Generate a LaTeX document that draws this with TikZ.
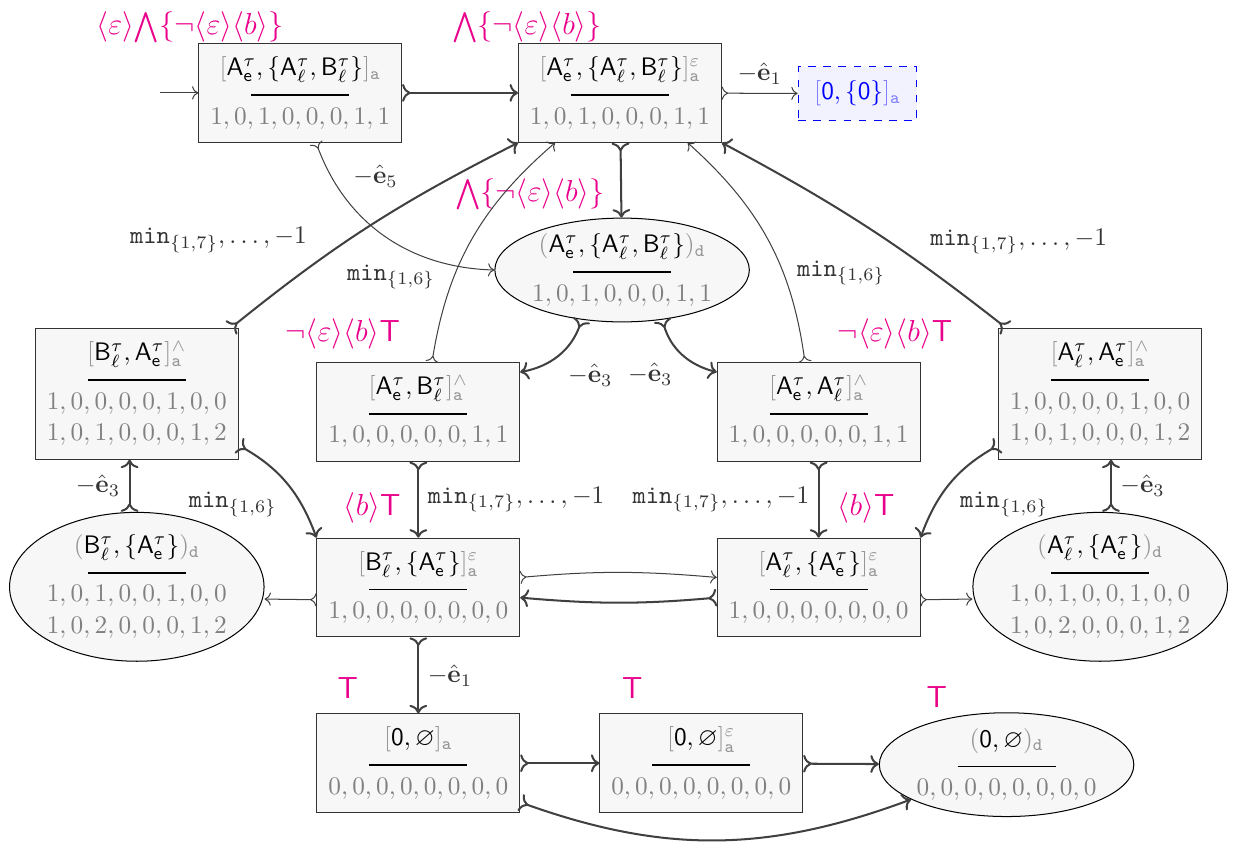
\documentclass[tikz,border=0pt]{standalone}
\usepackage{amssymb}
\usetikzlibrary{arrows.meta,shapes.geometric}

\definecolor{propc}{RGB}{233,0,139}
\definecolor{brk}{RGB}{150,150,150}
\definecolor{dig}{RGB}{128,128,128}
\definecolor{edg}{RGB}{64,64,64}

\newcommand{\Aet}{\mathsf{A}^{\tau}_{\mathsf{e}}}
\newcommand{\Alt}{\mathsf{A}^{\tau}_{\ell}}
\newcommand{\Blt}{\mathsf{B}^{\tau}_{\ell}}
\newcommand{\sta}[1]{\textcolor{brk}{[}#1\textcolor{brk}{]_{\mathtt{a}}}}
\newcommand{\ste}[1]{\textcolor{brk}{[}#1\textcolor{brk}{]^{\varepsilon}_{\mathtt{a}}}}
\newcommand{\stw}[1]{\textcolor{brk}{[}#1\textcolor{brk}{]^{\wedge}_{\mathtt{a}}}}
\newcommand{\std}[1]{\textcolor{brk}{(}#1\textcolor{brk}{)_{\mathtt{d}}}}
\newcommand{\dg}[1]{\textcolor{dig}{$#1$}}
\newcommand{\stnode}[2]{\begin{tabular}{@{}c@{}}\rule{0pt}{9pt}$#1$\\[-4pt]\rule{1.36cm}{0.6pt}\\[-0.8pt]#2\end{tabular}}
\newcommand{\mn}[1]{\mathtt{min}_{\{#1\}}}
\newcommand{\eh}[1]{-\hat{\mathbf{e}}_{#1}}
\newcommand{\bw}{\mathord{\bigwedge}}

\begin{document}
\begin{tikzpicture}[>={To},
    stbox/.style={rectangle,draw=black!80,fill=black!3,inner xsep=4.5pt,inner ysep=3.6pt},
    stell/.style={ellipse,draw=black,fill=black!3,inner xsep=0pt,inner ysep=-1.4pt},
    blu/.style={rectangle,draw=blue,dashed,fill=blue!5,text=blue,minimum width=1.65cm,minimum height=0.74cm},
    prop/.style={text=propc,font=\large},
    elbl/.style={text=black!80}]
\useasboundingbox (0,0) rectangle (17.125,-11.708);

% states
\coordinate (start) at (2.22,-1.29);
\node[stbox] (n1) at (4.17,-1.29) {\stnode{\sta{\Aet,\{\Alt,\Blt\}}}{\dg{1,0,1,0,0,0,1,1}}};
\node[stbox] (n2) at (8.61,-1.29) {\stnode{\ste{\Aet,\{\Alt,\Blt\}}}{\dg{1,0,1,0,0,0,1,1}}};
\node[blu] (n3) at (11.91,-1.30) {$\textcolor{blue!50}{[}\mathsf{0},\{\mathsf{0}\}\textcolor{blue!50}{]_{\mathtt{a}}}$};
\node[stell] (n4) at (8.64,-3.75) {\stnode{\std{\Aet,\{\Alt,\Blt\}}}{\dg{1,0,1,0,0,0,1,1}}};
\node[stbox] (n5) at (1.90,-5.47) {\stnode{\stw{\Blt,\Aet}}{\dg{1,0,0,0,0,1,0,0}\\[0.6pt]\dg{1,0,1,0,0,0,1,2}}};
\node[stbox] (n6) at (5.81,-5.72) {\stnode{\stw{\Aet,\Blt}}{\dg{1,0,0,0,0,0,1,1}}};
\node[stbox] (n7) at (11.37,-5.72) {\stnode{\stw{\Aet,\Alt}}{\dg{1,0,0,0,0,0,1,1}}};
\node[stbox] (n8) at (15.28,-5.47) {\stnode{\stw{\Alt,\Aet}}{\dg{1,0,0,0,0,1,0,0}\\[0.6pt]\dg{1,0,1,0,0,0,1,2}}};
\node[stell] (n9) at (1.90,-8.15) {\stnode{\std{\Blt,\{\Aet\}}}{\dg{1,0,1,0,0,1,0,0}\\[0.6pt]\dg{1,0,2,0,0,0,1,2}}};
\node[stbox] (n10) at (5.81,-8.16) {\stnode{\ste{\Blt,\{\Aet\}}}{\dg{1,0,0,0,0,0,0,0}}};
\node[stbox] (n11) at (11.37,-8.16) {\stnode{\ste{\Alt,\{\Aet\}}}{\dg{1,0,0,0,0,0,0,0}}};
\node[stell] (n12) at (15.28,-8.15) {\stnode{\std{\Alt,\{\Aet\}}}{\dg{1,0,1,0,0,1,0,0}\\[0.6pt]\dg{1,0,2,0,0,0,1,2}}};
\node[stbox] (n13) at (5.81,-10.60) {\stnode{\sta{\mathsf{0},\varnothing}}{\dg{0,0,0,0,0,0,0,0}}};
\node[stbox] (n14) at (9.74,-10.60) {\stnode{\ste{\mathsf{0},\varnothing}}{\dg{0,0,0,0,0,0,0,0}}};
\node[stell] (n15) at (13.98,-10.62) {\stnode{\std{\mathsf{0},\varnothing}}{\dg{0,0,0,0,0,0,0,0}}};

% formulas
\node[prop] (l1) at (2.64,-0.38) {$\langle\varepsilon\rangle\bw\{\neg\langle\varepsilon\rangle\langle b\rangle\}$};
\node[prop] (l2) at (7.32,-0.38) {$\bw\{\neg\langle\varepsilon\rangle\langle b\rangle\}$};
\node[prop] (l4) at (7.36,-2.70) {$\bw\{\neg\langle\varepsilon\rangle\langle b\rangle\}$};
\node[prop] (l6) at (4.76,-4.64) {$\neg\langle\varepsilon\rangle\langle b\rangle\mathsf{T}$};
\node[prop] (l7) at (12.43,-4.64) {$\neg\langle\varepsilon\rangle\langle b\rangle\mathsf{T}$};
\node[prop] (l10) at (5.17,-7.06) {$\langle b\rangle\mathsf{T}$};
\node[prop] (l11) at (12.03,-7.06) {$\langle b\rangle\mathsf{T}$};
\node[prop] (l13) at (4.83,-9.56) {$\mathsf{T}$};
\node[prop] (l14) at (8.78,-9.56) {$\mathsf{T}$};
\node[prop] (l15) at (13.01,-9.68) {$\mathsf{T}$};

\begin{scope}[every edge/.style={draw=edg,thick}]
    \path[->] (start) edge[thin] (n1);
    \path[>->] (n1) edge (n2);
    \path[>->] (n2) edge[thin] node[elbl,above] {$\eh{1}$} (n3);
    \path[>->] ([xshift=0.22cm]n1.south) edge[thin,bend right=34] node[elbl,pos=0.25,above right] {$\eh{5}$} (n4.west);
    \path[>->] (n2) edge (n4);
    \path[>->] ([xshift=-0.11cm]n5.north east) edge[bend left=6] node[elbl,pos=0.3,above left] {$\mn{1,7},\dots,-1$} (n2.south west);
    \path[>->] ([xshift=0.11cm]n8.north west) edge[bend right=5] node[elbl,pos=0.3,above right] {$\mn{1,7},\dots,-1$} (n2.south east);
    \path[>->] (n4.231) edge[bend left=30] node[elbl,pos=0.5,below right] {$\eh{3}$} ([yshift=-0.14cm]n6.north east);
    \path[>->] (n4.309) edge[bend right=30] node[elbl,pos=0.5,below left] {$\eh{3}$} ([yshift=-0.14cm]n7.north west);
    \path[>->] ([xshift=0.19cm]n6.north) edge[thin,bend left=20] node[elbl,pos=0.33,left=4pt] {$\mn{1,6}$} ([xshift=-0.9cm]n2.south);
    \path[>->] ([xshift=-0.19cm]n7.north) edge[thin,bend right=20] node[elbl,pos=0.35,right=2pt] {$\mn{1,6}$} ([xshift=0.94cm]n2.south);
    \path[>->] (n6) edge node[elbl,right] {$\mn{1,7},\dots,-1$} (n10);
    \path[>->] (n7) edge node[elbl,left] {$\mn{1,7},\dots,-1$} (n11);
    \path[>->] ([xshift=-0.1cm]n9.north) edge node[elbl,left] {$\eh{3}$} ([xshift=-0.1cm]n5.south);
    \path[>->] ([xshift=0.15cm]n12.north) edge node[elbl,right] {$\eh{3}$} ([xshift=0.15cm]n8.south);
    \path[>->] ([yshift=0.2cm]n5.south east) edge[bend left=20] node[elbl,pos=0.72,left=6pt] {$\mn{1,6}$} (n10.north west);
    \path[>->] ([yshift=0.2cm]n8.south west) edge[bend right=20] node[elbl,pos=0.72,right=6pt] {$\mn{1,6}$} (n11.north east);
    \path[>->] ([yshift=-0.17cm]n10.west) edge[thin] ([yshift=-0.17cm]n9.east);
    \path[>->] ([yshift=-0.17cm]n11.east) edge[thin] ([yshift=-0.17cm]n12.west);
    \path[>->] ([yshift=0.14cm]n10.east) edge[thin,bend left=5] ([yshift=0.14cm]n11.west);
    \path[>->] ([yshift=-0.14cm]n11.west) edge[bend left=5] ([yshift=-0.14cm]n10.east);
    \path[>->] (n10) edge node[elbl,right] {$\eh{1}$} (n13);
    \path[>->] (n13) edge (n14);
    \path[>->] (n14) edge (n15);
    \path[>->] ([yshift=0.15cm]n13.south east) edge[bend right=20] (n15.200);
\end{scope}
\end{tikzpicture}
\end{document}
